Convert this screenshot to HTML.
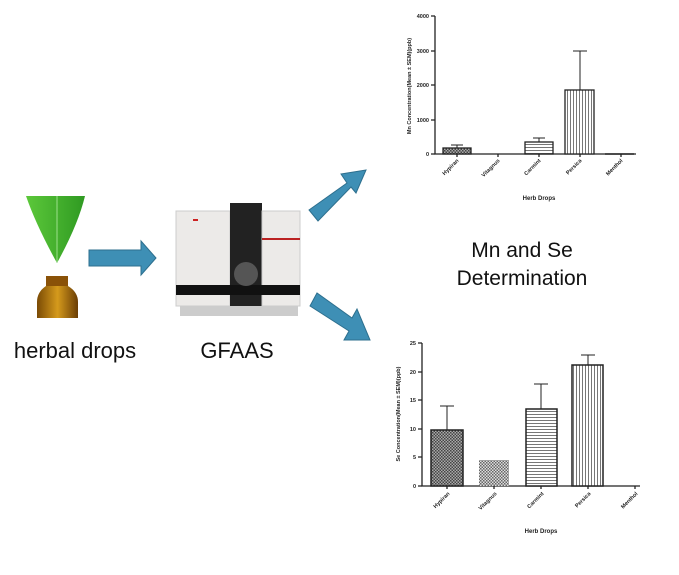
<!DOCTYPE html>
<html><head><style>body{margin:0;background:#fff}svg{display:block}</style></head><body>
<svg width="679" height="575" viewBox="0 0 679 575" xmlns="http://www.w3.org/2000/svg" font-family="Liberation Sans, sans-serif">
<defs>
<pattern id="chk" width="3" height="3" patternUnits="userSpaceOnUse"><rect width="3" height="3" fill="#aaa"/><rect width="1.5" height="1.5" fill="#444"/><rect x="1.5" y="1.5" width="1.5" height="1.5" fill="#444"/></pattern>
<pattern id="chk2" width="3" height="3" patternUnits="userSpaceOnUse"><rect width="3" height="3" fill="#ddd"/><rect width="1.5" height="1.5" fill="#666"/><rect x="1.5" y="1.5" width="1.5" height="1.5" fill="#666"/></pattern>
<pattern id="hz" width="4" height="3" patternUnits="userSpaceOnUse"><rect width="4" height="3" fill="#fff"/><rect width="4" height="1" fill="#777"/></pattern>
<pattern id="vt" width="3" height="4" patternUnits="userSpaceOnUse"><rect width="3" height="4" fill="#fff"/><rect width="1" height="4" fill="#777"/></pattern>
<linearGradient id="leaf" x1="0" x2="1"><stop offset="0" stop-color="#5cc83a"/><stop offset="1" stop-color="#2f9a22"/></linearGradient>
<linearGradient id="bot" x1="0" x2="1"><stop offset="0" stop-color="#7a4a05"/><stop offset=".5" stop-color="#d59a1c"/><stop offset="1" stop-color="#6a3d05"/></linearGradient>
</defs>
<path d="M26 196 L85 196 Q78 225 57 263 Q36 225 26 196Z" fill="url(#leaf)"/>
<path d="M57 196 L57 262" stroke="#9be08a" stroke-width="1"/>
<rect x="46" y="276" width="22" height="10" fill="#8a5208"/>
<path d="M46 286 Q37 292 37 302 L37 318 L78 318 L78 302 Q78 292 68 286Z" fill="url(#bot)"/>
<path d="M89 250 L141 250 L141 241 L156 258 L141 275 L141 266 L89 266Z" fill="#3e8fb5" stroke="#2d6f8e" stroke-width="1"/>
<rect x="176" y="211" width="54" height="95" fill="#eceae8" stroke="#ccc"/>
<rect x="230" y="203" width="32" height="108" fill="#222"/>
<rect x="262" y="211" width="38" height="95" fill="#eceae8" stroke="#ccc"/>
<rect x="262" y="238" width="38" height="2" fill="#b22"/>
<rect x="176" y="285" width="124" height="10" fill="#111"/>
<circle cx="246" cy="274" r="12" fill="#555"/>
<rect x="180" y="306" width="118" height="10" fill="#ccc"/>
<rect x="193" y="219" width="5" height="2" fill="#c22"/>
<path d="M309 210 L347 183 L341 174 L366 170 L356 193 L351 187 L318 221Z" fill="#3e8fb5" stroke="#2d6f8e"/>
<path d="M310 306 L317 293 L352 318 L357 309 L370 340 L344 340 L349 331Z" fill="#3e8fb5" stroke="#2d6f8e"/>
<text x="75" y="358" font-size="22" text-anchor="middle" fill="#111">herbal drops</text>
<text x="237" y="358" font-size="22" text-anchor="middle" fill="#111">GFAAS</text>
<text x="522" y="257" font-size="21" text-anchor="middle" fill="#111">Mn and Se</text>
<text x="522" y="285" font-size="21" text-anchor="middle" fill="#111">Determination</text>
<g stroke="#222" stroke-width="1.3" fill="none">
<path d="M435 16 V154 H636"/>
<path d="M431 16 H435 M431 51 H435 M431 85 H435 M431 120 H435 M431 154 H435"/>
<path d="M457 154 v3 M498 154 v3 M539 154 v3 M580 154 v3 M621 154 v3"/>
</g>
<g font-size="5.5" font-weight="bold" fill="#222" text-anchor="end">
<text x="429" y="18">4000</text><text x="429" y="53">3000</text><text x="429" y="87">2000</text><text x="429" y="122">1000</text><text x="429" y="156">0</text>
</g>
<rect x="443" y="148" width="28" height="6" fill="url(#chk)" stroke="#222" stroke-width="1.3"/>
<path d="M457 148 V145 M451 145 H463" stroke="#222"/>
<rect x="525" y="142" width="28" height="12" fill="url(#hz)" stroke="#222" stroke-width="1.3"/>
<path d="M539 142 V138 M533 138 H545" stroke="#222"/>
<rect x="565" y="90" width="29" height="64" fill="url(#vt)" stroke="#222" stroke-width="1.3"/>
<path d="M580 90 V51 M573 51 H587" stroke="#222"/>
<path d="M605 154 H634" stroke="#222" stroke-width="1.5"/>
<g font-size="5.5" font-weight="bold" fill="#222" text-anchor="end">
<text transform="translate(459,161) rotate(-45)">Hypiran</text>
<text transform="translate(500,161) rotate(-45)">Vitagnus</text>
<text transform="translate(541,161) rotate(-45)">Carmint</text>
<text transform="translate(582,161) rotate(-45)">Persica</text>
<text transform="translate(623,161) rotate(-45)">Menthol</text>
</g>
<text x="539" y="200" font-size="6" font-weight="bold" fill="#222" text-anchor="middle">Herb Drops</text>
<text transform="translate(411,86) rotate(-90)" font-size="5.5" font-weight="bold" fill="#222" text-anchor="middle">Mn Concentration(Mean ± SEM)(ppb)</text>
<g stroke="#222" stroke-width="1.3" fill="none">
<path d="M422 343 V486 H640"/>
<path d="M418 343 H422 M418 372 H422 M418 400 H422 M418 429 H422 M418 457 H422 M418 486 H422"/>
<path d="M447 486 v3 M494 486 v3 M541 486 v3 M588 486 v3 M635 486 v3"/>
</g>
<g font-size="5.5" font-weight="bold" fill="#222" text-anchor="end">
<text x="416" y="345">25</text><text x="416" y="374">20</text><text x="416" y="402">15</text><text x="416" y="431">10</text><text x="416" y="459">5</text><text x="416" y="488">0</text>
</g>
<rect x="431" y="430" width="32" height="56" fill="url(#chk)" stroke="#222" stroke-width="1.5"/>
<path d="M447 430 V406 M440 406 H454" stroke="#222"/>
<rect x="479" y="460" width="30" height="26" fill="url(#chk2)"/>
<rect x="526" y="409" width="31" height="77" fill="url(#hz)" stroke="#222" stroke-width="1.5"/>
<path d="M541 409 V384 M534 384 H548" stroke="#222"/>
<rect x="572" y="365" width="31" height="121" fill="url(#vt)" stroke="#222" stroke-width="1.5"/>
<path d="M588 365 V355 M581 355 H595" stroke="#222"/>
<g font-size="5.5" font-weight="bold" fill="#222" text-anchor="end">
<text transform="translate(450,494) rotate(-45)">Hypiran</text>
<text transform="translate(497,494) rotate(-45)">Vitagnus</text>
<text transform="translate(544,494) rotate(-45)">Carmint</text>
<text transform="translate(591,494) rotate(-45)">Persica</text>
<text transform="translate(638,494) rotate(-45)">Menthol</text>
</g>
<text x="541" y="533" font-size="6" font-weight="bold" fill="#222" text-anchor="middle">Herb Drops</text>
<text transform="translate(400,414) rotate(-90)" font-size="5.5" font-weight="bold" fill="#222" text-anchor="middle">Se Concentration(Mean ± SEM)(ppb)</text>
</svg>
</body></html>
